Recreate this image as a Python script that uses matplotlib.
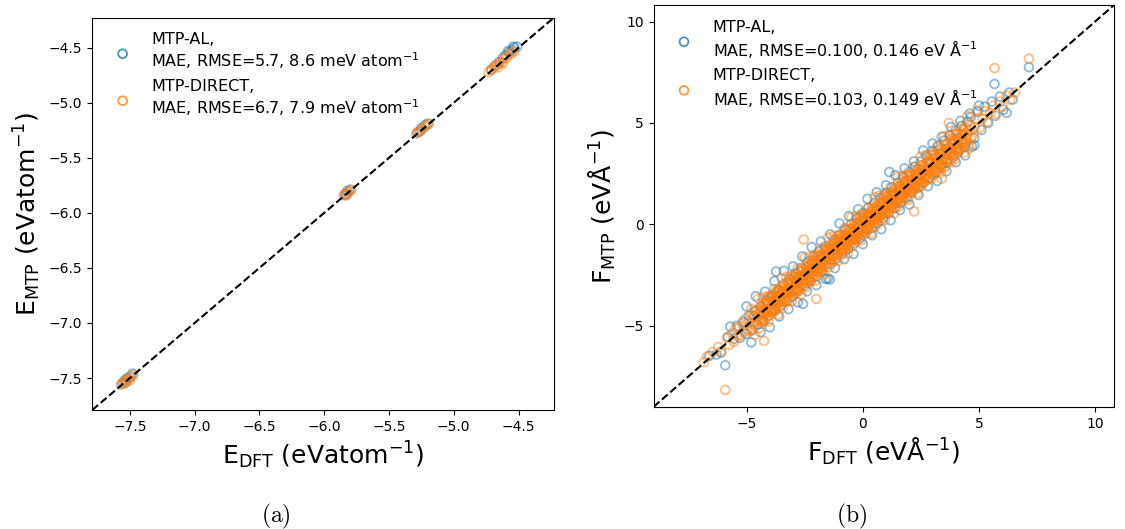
import numpy as np
import matplotlib
matplotlib.use("Agg")
import matplotlib.pyplot as plt
from matplotlib.ticker import MultipleLocator

# energy parity data (E_DFT, E_MTP), eV/atom
energy_al = [(-7.56, -7.55), (-7.54, -7.52), (-7.52, -7.50), (-7.50, -7.49), (-7.48, -7.46), (-7.53, -7.54),
             (-5.84, -5.83), (-5.82, -5.80), (-5.80, -5.79), (-5.83, -5.84),
             (-5.28, -5.27), (-5.25, -5.23), (-5.22, -5.20), (-5.20, -5.19), (-5.26, -5.26),
             (-4.71, -4.70), (-4.68, -4.66), (-4.65, -4.63), (-4.62, -4.59), (-4.60, -4.57), (-4.57, -4.54),
             (-4.55, -4.52), (-4.53, -4.50), (-4.51, -4.49), (-4.58, -4.53), (-4.54, -4.49)]
energy_direct = [(-7.57, -7.56), (-7.55, -7.54), (-7.53, -7.52), (-7.51, -7.51), (-7.49, -7.48), (-7.47, -7.47),
                 (-7.54, -7.55), (-7.50, -7.52),
                 (-5.85, -5.84), (-5.83, -5.82), (-5.81, -5.81), (-5.79, -5.79), (-5.82, -5.83),
                 (-5.29, -5.28), (-5.27, -5.26), (-5.25, -5.25), (-5.23, -5.22), (-5.21, -5.21), (-5.19, -5.19),
                 (-4.73, -4.72), (-4.71, -4.70), (-4.69, -4.68), (-4.67, -4.66), (-4.65, -4.64), (-4.63, -4.63),
                 (-4.61, -4.60), (-4.59, -4.59), (-4.57, -4.56), (-4.55, -4.55), (-4.53, -4.53), (-4.66, -4.68),
                 (-4.62, -4.64)]

# force parity data (F_DFT, F_MTP), eV/A
force_al = [(-6.60, -6.48), (-6.30, -6.42), (-6.10, -6.33), (-5.92, -6.95), (-5.80, -5.55), (-5.70, -5.05),
            (-5.55, -5.65), (-5.40, -5.00), (-5.28, -5.60), (-5.15, -4.80), (-5.02, -5.40), (-4.90, -4.50),
            (-4.78, -5.20), (-4.65, -4.30), (-4.52, -4.95), (-4.40, -4.05), (-4.28, -4.75), (-4.15, -3.75),
            (-4.02, -4.50), (-3.90, -3.50), (-3.78, -4.25), (-3.73, -2.33), (-3.65, -3.25), (-3.52, -4.00),
            (-3.40, -2.95), (-3.28, -3.78), (-3.15, -2.70), (-3.02, -3.55), (-2.90, -2.42), (-2.78, -3.30),
            (-2.65, -2.15), (-2.57, -3.92), (-2.50, -3.02), (-2.38, -1.85), (-2.25, -2.80), (-2.12, -1.60),
            (-2.00, -2.55), (-1.88, -1.35), (-1.75, -2.30), (-1.62, -1.10), (-1.51, -2.67), (-1.42, -2.72),
            (-1.38, -1.95), (-1.25, -0.78), (-1.12, -1.68), (-1.00, -0.52), (-0.88, -1.45), (-0.75, -0.25),
            (-0.62, -1.20), (-0.50, 0.02), (-0.38, -0.95), (-0.25, 0.28), (-0.12, -0.70), (0.00, 0.55),
            (0.12, -0.45), (0.25, 0.80), (0.38, -0.20), (0.50, 1.05), (0.62, 0.05), (0.75, 1.30),
            (0.88, 0.30), (1.00, 1.55), (1.14, 2.58), (1.12, 0.55), (1.25, 1.82), (1.38, 0.80),
            (1.50, 2.05), (1.62, 1.05), (1.75, 2.32), (1.88, 1.30), (2.00, 2.58), (2.12, 1.55),
            (2.25, 2.85), (2.38, 1.80), (2.50, 3.10), (2.62, 2.05), (2.75, 3.38), (2.88, 2.30),
            (3.00, 3.62), (3.12, 2.55), (3.25, 3.88), (3.38, 2.80), (3.50, 4.12), (3.62, 3.05),
            (3.75, 4.38), (3.88, 3.30), (4.00, 4.62), (4.12, 3.55), (4.25, 4.85), (4.38, 3.80),
            (4.50, 5.05), (4.70, 3.83), (4.65, 5.30), (4.80, 4.25), (4.95, 5.55), (5.10, 4.65),
            (5.25, 5.80), (5.40, 5.00), (5.55, 6.05), (5.67, 6.92), (5.70, 5.35), (5.90, 6.30),
            (6.05, 5.65), (6.19, 5.50), (6.30, 6.50), (6.45, 6.15), (7.15, 7.75)]

# MTP-AL points on the outer rim of the band
force_al_rim = [(-5.0, -4.05), (-4.8, -5.82), (-4.6, -3.55), (-4.4, -5.32), (-4.2, -3.32), (-4.0, -5.08),
                (-3.8, -2.80), (-3.6, -4.55), (-3.4, -2.30), (-3.2, -4.18), (-3.0, -2.08), (-2.8, -3.85),
                (-2.6, -1.58), (-2.4, -3.30), (-2.2, -1.12), (-2.0, -3.00), (-1.8, -0.85), (-1.6, -2.70),
                (-1.4, -0.50), (-1.2, -2.16), (-1.0, 0.04), (-0.8, -1.72), (-0.6, 0.40), (-0.4, -1.46),
                (-0.2, 0.74), (0.0, -0.98), (0.2, 1.26), (0.4, -0.54), (0.6, 1.58), (0.8, -0.24),
                (1.0, 1.92), (1.2, 0.20), (1.4, 2.42), (1.6, 0.70), (1.8, 2.76), (2.0, 0.98),
                (2.2, 3.10), (2.4, 1.44), (2.6, 3.64), (2.8, 1.88), (3.0, 3.98), (3.2, 2.14),
                (3.4, 4.32), (3.6, 2.62), (3.8, 4.80), (4.0, 3.06), (4.2, 5.10), (4.4, 3.40),
                (4.6, 5.46), (4.8, 3.90), (5.0, 5.85)]

force_direct = [(-6.85, -6.80), (-6.70, -6.52), (-6.45, -6.30), (-6.22, -6.05), (-6.08, -6.25), (-5.92, -8.17),
                (-5.85, -5.60), (-5.74, -5.95), (-5.62, -5.38), (-5.55, -5.80), (-5.48, -5.12), (-5.40, -5.52),
                (-5.33, -5.05), (-5.25, -5.48), (-5.18, -4.90), (-5.12, -5.31), (-5.05, -4.65), (-4.98, -5.18),
                (-4.92, -4.78), (-4.86, -5.27), (-4.80, -4.45), (-4.74, -4.95), (-4.67, -4.52), (-4.61, -4.88),
                (-4.55, -4.21), (-4.49, -4.70), (-4.44, -4.38), (-4.38, -4.81), (-4.32, -4.02), (-4.25, -5.75),
                (-4.22, -4.36), (-4.17, -3.90), (-4.12, -4.55), (-4.06, -3.82), (-4.01, -4.18), (-3.96, -3.58),
                (-3.90, -4.25), (-3.85, -3.77), (-3.80, -3.45), (-3.74, -4.02), (-3.69, -3.55), (-3.64, -3.91),
                (-3.58, -3.24), (-3.53, -3.66), (-3.48, -3.35), (-3.43, -3.82), (-3.38, -3.05), (-3.33, -3.49),
                (-3.28, -3.22), (-3.23, -3.58), (-3.18, -2.86), (-3.13, -3.30), (-3.08, -3.02), (-3.03, -3.41),
                (-2.98, -2.64), (-2.94, -3.09), (-2.89, -2.83), (-2.85, -3.22), (-2.80, -2.47), (-2.76, -2.95),
                (-2.71, -2.62), (-2.67, -3.05), (-2.62, -2.31), (-2.58, -2.74), (-2.54, -0.75), (-2.51, -2.49),
                (-2.47, -2.88), (-2.43, -2.12), (-2.39, -2.58), (-2.35, -2.30), (-2.31, -2.71), (-2.27, -1.98),
                (-2.23, -2.41), (-2.19, -2.15), (-2.15, -2.55), (-2.11, -1.80), (-2.07, -2.26), (-2.03, -1.95),
                (-2.00, -3.68), (-1.97, -2.36), (-1.93, -1.66), (-1.89, -2.08), (-1.86, -1.79), (-1.82, -2.19),
                (-1.78, -1.50), (-1.74, -1.93), (-1.71, -1.64), (-1.67, -2.05), (-1.63, -1.35), (-1.60, -1.78),
                (-1.56, -1.52), (-1.52, -1.90), (-1.49, -1.20), (-1.45, -1.63), (-1.42, -1.38), (-1.38, -1.76),
                (-1.34, -1.07), (-1.31, -1.49), (-1.27, -1.24), (-1.24, -1.61), (-1.20, -0.93), (-1.17, -1.34),
                (-1.13, -1.10), (-1.10, -1.47), (-1.06, -0.79), (-1.03, -1.21), (-0.99, -0.96), (-0.96, -1.32),
                (-0.92, -0.64), (-0.89, -1.06), (-0.85, -0.82), (-0.82, -1.18), (-0.78, -0.50), (-0.75, -0.93),
                (-0.71, -0.69), (-0.68, -1.04), (-0.64, -0.36), (-0.61, -0.79), (-0.57, -0.55), (-0.54, -0.90),
                (-0.50, -0.22), (-0.47, -0.64), (-0.43, -0.41), (-0.40, -0.77), (-0.36, -0.09), (-0.33, -0.50),
                (-0.29, -0.27), (-0.26, -0.62), (-0.22, 0.05), (-0.19, -0.37), (-0.15, -0.13), (-0.12, -0.49),
                (-0.08, 0.19), (-0.05, -0.22), (-0.01, 0.01), (0.02, -0.34), (0.06, 0.33), (0.09, -0.08),
                (0.13, 0.15), (0.16, -0.20), (0.20, 0.47), (0.23, 0.06), (0.27, 0.29), (0.30, -0.05),
                (0.34, 0.61), (0.37, 0.20), (0.41, 0.43), (0.44, 0.09), (0.48, 0.75), (0.51, 0.34),
                (0.55, 0.57), (0.58, 0.23), (0.62, 0.89), (0.65, 0.48), (0.69, 0.71), (0.72, 0.37),
                (0.76, 1.03), (0.79, 0.62), (0.83, 0.85), (0.86, 0.51), (0.90, 1.17), (0.93, 0.76),
                (0.97, 0.99), (1.00, 0.65), (1.04, 1.31), (1.07, 0.90), (1.11, 1.13), (1.14, 0.79),
                (1.18, 1.45), (1.21, 1.04), (1.25, 1.27), (1.28, 0.93), (1.32, 1.59), (1.35, 1.18),
                (1.39, 1.41), (1.42, 1.07), (1.46, 1.73), (1.50, 1.32), (1.53, 1.55), (1.57, 1.21),
                (1.61, 1.87), (1.64, 1.46), (1.68, 1.70), (1.72, 1.35), (1.76, 2.02), (1.80, 1.60),
                (1.84, 1.85), (1.88, 1.49), (1.92, 2.17), (1.96, 1.75), (2.00, 2.00), (2.04, 1.63),
                (2.09, 2.33), (2.13, 1.90), (2.17, 2.15), (2.21, 0.63), (2.22, 1.78), (2.26, 2.50),
                (2.31, 2.06), (2.35, 2.31), (2.40, 1.93), (2.45, 2.68), (2.50, 2.22), (2.55, 2.47),
                (2.60, 2.08), (2.65, 2.87), (2.70, 2.39), (2.75, 2.64), (2.80, 2.25), (2.86, 3.06),
                (2.91, 2.57), (2.96, 2.82), (3.02, 2.42), (3.08, 3.27), (3.14, 2.76), (3.20, 3.00),
                (3.26, 2.60), (3.32, 3.48), (3.38, 2.95), (3.40, 2.25), (3.45, 3.20), (3.52, 2.80),
                (3.58, 3.70), (3.65, 3.15), (3.70, 5.00), (3.72, 3.42), (3.80, 3.05), (3.86, 3.95),
                (3.94, 3.40), (4.02, 3.70), (4.10, 4.25), (4.18, 3.72), (4.26, 4.05), (4.35, 4.62),
                (4.44, 4.05), (4.52, 4.40), (4.60, 3.75), (4.62, 4.88), (4.72, 4.35), (4.82, 4.78),
                (4.90, 5.63), (4.92, 5.20), (5.03, 4.75), (5.14, 5.22), (5.25, 5.58), (5.36, 5.05),
                (5.48, 5.50), (5.60, 5.85), (5.67, 7.70), (5.74, 5.45), (5.88, 6.05), (6.02, 5.80),
                (6.18, 6.35), (6.35, 6.15), (6.55, 6.50), (7.15, 8.17)]

# extra MTP-DIRECT points filling the dense core of the band (wide part)
force_direct_core = [(-4.80, -4.18), (-4.75, -5.23), (-4.70, -4.55), (-4.65, -5.46), (-4.60, -4.23), (-4.55, -4.77),
                     (-4.50, -3.66), (-4.45, -5.11), (-4.40, -4.35), (-4.35, -4.74), (-4.30, -3.59), (-4.25, -4.83),
                     (-4.20, -3.92), (-4.15, -4.27), (-4.10, -3.55), (-4.05, -4.79), (-4.00, -3.56), (-3.95, -4.26),
                     (-3.90, -3.81), (-3.85, -4.37), (-3.80, -3.18), (-3.75, -4.23), (-3.70, -3.55), (-3.65, -4.46),
                     (-3.60, -3.23), (-3.55, -3.77), (-3.50, -2.66), (-3.45, -4.11), (-3.40, -3.35), (-3.35, -3.74),
                     (-3.30, -2.59), (-3.25, -3.83), (-3.20, -2.92), (-3.15, -3.27), (-3.10, -2.55), (-3.05, -3.79),
                     (-3.00, -2.56), (-2.95, -3.26), (-2.90, -2.81), (-2.85, -3.37), (-2.80, -2.18), (-2.75, -3.23),
                     (-2.70, -2.55), (-2.65, -3.46), (-2.60, -2.23), (-2.55, -2.77), (-2.50, -1.66), (-2.45, -3.11),
                     (-2.40, -2.35), (-2.35, -2.74), (-2.30, -1.59), (-2.25, -2.83), (-2.20, -1.92), (-2.15, -2.27),
                     (-2.10, -1.55), (-2.05, -2.79), (-2.00, -1.56), (-1.95, -2.26), (-1.90, -1.81), (-1.85, -2.37),
                     (-1.80, -1.18), (-1.75, -2.23), (-1.70, -1.55), (-1.65, -2.46), (-1.60, -1.23), (-1.55, -1.77),
                     (-1.50, -0.66), (-1.45, -2.11), (-1.40, -1.35), (-1.35, -1.74), (-1.30, -0.59), (-1.25, -1.83),
                     (-1.20, -0.92), (-1.15, -1.27), (-1.10, -0.55), (-1.05, -1.79), (-1.00, -0.56), (-0.95, -1.26),
                     (-0.90, -0.81), (-0.85, -1.37), (-0.80, -0.18), (-0.75, -1.23), (-0.70, -0.55), (-0.65, -1.46),
                     (-0.60, -0.23), (-0.55, -0.77), (-0.50, 0.34), (-0.45, -1.11), (-0.40, -0.35), (-0.35, -0.74),
                     (-0.30, 0.41), (-0.25, -0.83), (-0.20, 0.08), (-0.15, -0.27), (-0.10, 0.45), (-0.05, -0.79),
                     (0.00, 0.44), (0.05, -0.26), (0.10, 0.19), (0.15, -0.37), (0.20, 0.82), (0.25, -0.23),
                     (0.30, 0.45), (0.35, -0.46), (0.40, 0.77), (0.45, 0.23), (0.50, 1.34), (0.55, -0.11),
                     (0.60, 0.65), (0.65, 0.26), (0.70, 1.41), (0.75, 0.17), (0.80, 1.08), (0.85, 0.73),
                     (0.90, 1.45), (0.95, 0.21), (1.00, 1.44), (1.05, 0.74), (1.10, 1.19), (1.15, 0.63),
                     (1.20, 1.82), (1.25, 0.77), (1.30, 1.45), (1.35, 0.54), (1.40, 1.77), (1.45, 1.23),
                     (1.50, 2.34), (1.55, 0.89), (1.60, 1.65), (1.65, 1.26), (1.70, 2.41), (1.75, 1.17),
                     (1.80, 2.08), (1.85, 1.73), (1.90, 2.45), (1.95, 1.21), (2.00, 2.44), (2.05, 1.74),
                     (2.10, 2.19), (2.15, 1.63), (2.20, 2.82), (2.25, 1.77), (2.30, 2.45), (2.35, 1.54),
                     (2.40, 2.77), (2.45, 2.23), (2.50, 3.34), (2.55, 1.89), (2.60, 2.65), (2.65, 2.26),
                     (2.70, 3.41), (2.75, 2.17), (2.80, 3.08), (2.85, 2.73), (2.90, 3.45), (2.95, 2.21),
                     (3.00, 3.44), (3.05, 2.74), (3.10, 3.19), (3.15, 2.63), (3.20, 3.82), (3.25, 2.77),
                     (3.30, 3.45), (3.35, 2.54), (3.40, 3.77), (3.45, 3.23), (3.50, 4.34), (3.55, 2.89),
                     (3.60, 3.65), (3.65, 3.26), (3.70, 4.41), (3.75, 3.17), (3.80, 4.08), (3.85, 3.73),
                     (3.90, 4.45), (3.95, 3.21), (4.00, 4.44), (4.05, 3.74), (4.10, 4.19), (4.15, 3.63),
                     (4.20, 4.82), (4.25, 3.77), (4.30, 4.45), (4.35, 3.54), (4.40, 4.77), (4.45, 4.23),
                     (4.50, 5.34), (4.55, 3.89), (4.60, 4.65), (4.65, 4.26)]

# extra MTP-DIRECT points close to the diagonal (tight part of the core)
force_direct_inner = [(-4.40, -4.19), (-4.36, -4.71), (-4.32, -4.28), (-4.28, -3.86), (-4.24, -4.41), (-4.20, -4.64),
                      (-4.16, -3.86), (-4.12, -4.18), (-4.08, -3.95), (-4.04, -4.32), (-4.00, -3.62), (-3.96, -4.36),
                      (-3.92, -3.83), (-3.88, -3.67), (-3.84, -4.19), (-3.80, -3.76), (-3.76, -3.34), (-3.72, -3.89),
                      (-3.68, -4.12), (-3.64, -3.34), (-3.60, -3.66), (-3.56, -3.43), (-3.52, -3.80), (-3.48, -3.10),
                      (-3.44, -3.84), (-3.40, -3.31), (-3.36, -3.15), (-3.32, -3.67), (-3.28, -3.24), (-3.24, -2.82),
                      (-3.20, -3.37), (-3.16, -3.60), (-3.12, -2.82), (-3.08, -3.14), (-3.04, -2.91), (-3.00, -3.28),
                      (-2.96, -2.58), (-2.92, -3.32), (-2.88, -2.79), (-2.84, -2.63), (-2.80, -3.15), (-2.76, -2.72),
                      (-2.72, -2.30), (-2.68, -2.85), (-2.64, -3.08), (-2.60, -2.30), (-2.56, -2.62), (-2.52, -2.39),
                      (-2.48, -2.76), (-2.44, -2.06), (-2.40, -2.80), (-2.36, -2.27), (-2.32, -2.11), (-2.28, -2.63),
                      (-2.24, -2.20), (-2.20, -1.78), (-2.16, -2.33), (-2.12, -2.56), (-2.08, -1.78), (-2.04, -2.10),
                      (-2.00, -1.87), (-1.96, -2.24), (-1.92, -1.54), (-1.88, -2.28), (-1.84, -1.75), (-1.80, -1.59),
                      (-1.76, -2.11), (-1.72, -1.68), (-1.68, -1.26), (-1.64, -1.81), (-1.60, -2.04), (-1.56, -1.26),
                      (-1.52, -1.58), (-1.48, -1.35), (-1.44, -1.72), (-1.40, -1.02), (-1.36, -1.76), (-1.32, -1.23),
                      (-1.28, -1.07), (-1.24, -1.59), (-1.20, -1.16), (-1.16, -0.74), (-1.12, -1.29), (-1.08, -1.52),
                      (-1.04, -0.74), (-1.00, -1.06), (-0.96, -0.83), (-0.92, -1.20), (-0.88, -0.50), (-0.84, -1.24),
                      (-0.80, -0.71), (-0.76, -0.55), (-0.72, -1.07), (-0.68, -0.64), (-0.64, -0.22), (-0.60, -0.77),
                      (-0.56, -1.00), (-0.52, -0.22), (-0.48, -0.54), (-0.44, -0.31), (-0.40, -0.68), (-0.36, 0.02),
                      (-0.32, -0.72), (-0.28, -0.19), (-0.24, -0.03), (-0.20, -0.55), (-0.16, -0.12), (-0.12, 0.30),
                      (-0.08, -0.25), (-0.04, -0.48), (0.00, 0.30), (0.04, -0.02), (0.08, 0.21), (0.12, -0.16),
                      (0.16, 0.54), (0.20, -0.20), (0.24, 0.33), (0.28, 0.49), (0.32, -0.03), (0.36, 0.40),
                      (0.40, 0.82), (0.44, 0.27), (0.48, 0.04), (0.52, 0.82), (0.56, 0.50), (0.60, 0.73),
                      (0.64, 0.36), (0.68, 1.06), (0.72, 0.32), (0.76, 0.85), (0.80, 1.01), (0.84, 0.49),
                      (0.88, 0.92), (0.92, 1.34), (0.96, 0.79), (1.00, 0.56), (1.04, 1.34), (1.08, 1.02),
                      (1.12, 1.25), (1.16, 0.88), (1.20, 1.58), (1.24, 0.84), (1.28, 1.37), (1.32, 1.53),
                      (1.36, 1.01), (1.40, 1.44), (1.44, 1.86), (1.48, 1.31), (1.52, 1.08), (1.56, 1.86),
                      (1.60, 1.54), (1.64, 1.77), (1.68, 1.40), (1.72, 2.10), (1.76, 1.36), (1.80, 1.89),
                      (1.84, 2.05), (1.88, 1.53), (1.92, 1.96), (1.96, 2.38), (2.00, 1.83), (2.04, 1.60),
                      (2.08, 2.38), (2.12, 2.06), (2.16, 2.29), (2.20, 1.92), (2.24, 2.62), (2.28, 1.88),
                      (2.32, 2.41), (2.36, 2.57), (2.40, 2.05), (2.44, 2.48), (2.48, 2.90), (2.52, 2.35),
                      (2.56, 2.12), (2.60, 2.90), (2.64, 2.58), (2.68, 2.81), (2.72, 2.44), (2.76, 3.14),
                      (2.80, 2.40), (2.84, 2.93), (2.88, 3.09), (2.92, 2.57), (2.96, 3.00), (3.00, 3.42),
                      (3.04, 2.87), (3.08, 2.64), (3.12, 3.42), (3.16, 3.10), (3.20, 3.33), (3.24, 2.96),
                      (3.28, 3.66), (3.32, 2.92), (3.36, 3.45), (3.40, 3.61), (3.44, 3.09), (3.48, 3.52),
                      (3.52, 3.94), (3.56, 3.39), (3.60, 3.16), (3.64, 3.94), (3.68, 3.62), (3.72, 3.85),
                      (3.76, 3.48), (3.80, 4.18), (3.84, 3.44), (3.88, 3.97), (3.92, 4.13), (3.96, 3.61),
                      (4.00, 4.04), (4.04, 4.46), (4.08, 3.91), (4.12, 3.68), (4.16, 4.46), (4.20, 4.14),
                      (4.24, 4.37), (4.28, 4.00), (4.32, 4.70), (4.36, 3.96), (4.40, 4.49)]

labels_e = ["MTP-AL,\nMAE, RMSE=5.7, 8.6 meV atom$^{-1}$",
            "MTP-DIRECT,\nMAE, RMSE=6.7, 7.9 meV atom$^{-1}$"]
labels_f = ["MTP-AL,\nMAE, RMSE=0.100, 0.146 eV Å$^{-1}$",
            "MTP-DIRECT,\nMAE, RMSE=0.103, 0.149 eV Å$^{-1}$"]

fig = plt.figure(figsize=(11.25, 5.29), dpi=100)
ax1 = fig.add_axes([0.082, 0.225, 0.410, 0.741])
ax2 = fig.add_axes([0.581, 0.231, 0.409, 0.759])


def parity(ax, al, direct, labels, lims):
    al = np.array(al)
    direct = np.array(direct)
    ax.scatter(al[:, 0], al[:, 1], s=40, facecolors='none', edgecolors='C0',
               alpha=0.5, linewidths=1.3, label=labels[0])
    ax.scatter(direct[:, 0], direct[:, 1], s=40, facecolors='none', edgecolors='C1',
               alpha=0.5, linewidths=1.3, label=labels[1])
    ax.plot(lims, lims, 'k--', lw=1.5)
    ax.set_xlim(lims)
    ax.set_ylim(lims)
    ax.tick_params(labelsize=10)
    leg = ax.legend(loc='upper left', frameon=False, fontsize=11.5)
    for h in leg.legend_handles:
        h.set_alpha(0.8)


parity(ax1, energy_al, energy_direct, labels_e, (-7.79, -4.23))
parity(ax2, force_al + force_al_rim,
       force_direct + force_direct_core + force_direct_inner, labels_f, (-9.0, 10.8))
ax2.xaxis.set_major_locator(MultipleLocator(5))
ax2.yaxis.set_major_locator(MultipleLocator(5))

ax1.set_xlabel(r"E$_{\mathrm{DFT}}$ (eVatom$^{-1}$)", fontsize=18)
ax1.set_ylabel(r"E$_{\mathrm{MTP}}$ (eVatom$^{-1}$)", fontsize=18)
ax2.set_xlabel(r"F$_{\mathrm{DFT}}$ (eVÅ$^{-1}$)", fontsize=18)
ax2.set_ylabel(r"F$_{\mathrm{MTP}}$ (eVÅ$^{-1}$)", fontsize=18)

fig.text(0.245, 0.012, r"$\mathrm{(a)}$", fontsize=17, math_fontfamily='cm', ha='center')
fig.text(0.757, 0.012, r"$\mathrm{(b)}$", fontsize=17, math_fontfamily='cm', ha='center')

fig.savefig("out.png", dpi=100)
